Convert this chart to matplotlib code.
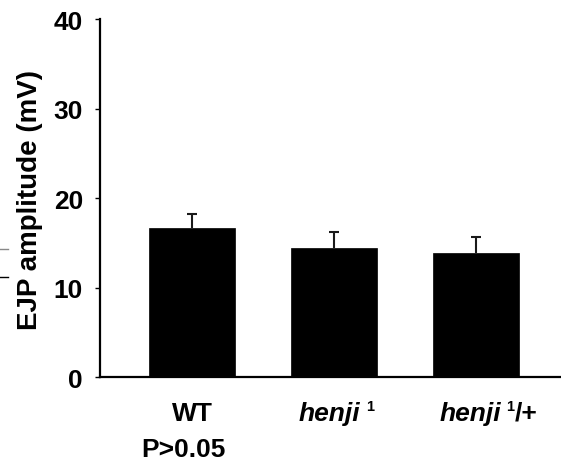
import matplotlib
matplotlib.use("Agg")
import matplotlib.pyplot as plt
from matplotlib.lines import Line2D
from matplotlib.transforms import offset_copy

plt.rcParams['font.family'] = ['Liberation Sans', 'DejaVu Sans']

# Data
genotypes = ["WT", "henji 1", "henji 1/+"]
ejp_mean = [16.7, 14.45, 13.85]
ejp_sem = [1.5, 1.75, 1.75]
y_ticks = [0, 10, 20, 30, 40]
pvalue_text = "P>0.05"

W, H = 561, 460
fig = plt.figure(figsize=(W / 100, H / 100), dpi=100)
ax = fig.add_axes([100 / W, 1 - 378 / H, 461 / W, 358 / H])

x = list(range(len(genotypes)))
ax.bar(x, ejp_mean, width=0.606, color="black", edgecolor="black", linewidth=0.5, zorder=2)

# upper-only error bars with caps
tops = [m + s for m, s in zip(ejp_mean, ejp_sem)]
cap = 0.036
ax.vlines(x, ejp_mean, tops, color="#1a1a1a", lw=1.5, zorder=3)
ax.hlines(tops, [xi - cap for xi in x], [xi + cap for xi in x], color="#1a1a1a", lw=1.5, zorder=3)

ax.set_xlim(-0.648, 2.599)
ax.set_ylim(0, 40)
ax.set_yticks(y_ticks)
ax.set_yticklabels([str(t) for t in y_ticks], fontsize=19, fontweight="bold")
ax.tick_params(axis="y", direction="out", length=3.6, width=1, pad=8.6)
ax.set_xticks([])
for s in ("top", "right"):
    ax.spines[s].set_visible(False)
for s in ("left", "bottom"):
    ax.spines[s].set_linewidth(1.6)

renderer = fig.canvas.get_renderer()
xtrans = ax.get_xaxis_transform()


def rich_label(xc, yb, pieces):
    """Draw a row of text pieces (text, kwargs, raise_px, gap_px) centred on xc."""
    arts, widths = [], []
    for txt, kw, rise, gap in pieces:
        t = ax.text(xc, yb, txt, transform=xtrans, ha="left", va="baseline", **kw)
        widths.append(t.get_window_extent(renderer).width)
        arts.append((t, rise, gap))
    total = sum(widths) + sum(g for _, _, g in arts)
    cur = -total / 2
    for (t, rise, gap), w in zip(arts, widths):
        cur += gap
        t.set_transform(offset_copy(xtrans, fig=fig, x=cur, y=rise, units="dots"))
        cur += w


base = -0.120
main = dict(fontsize=19, fontweight="bold")
ital = dict(fontsize=19, fontweight="bold", fontstyle="italic")
sup = dict(fontsize=10.5, fontweight="bold")

ax.text(0, base, genotypes[0], transform=xtrans, ha="center", va="baseline", **main)
ax.text(-0.06, base - 0.1005, pvalue_text, transform=xtrans, ha="center", va="baseline", **main)
rich_label(1.014, base, [("henji", ital, 0, 0), ("1", sup, 10, 6)])
rich_label(2.09, base, [("henji", ital, 0, 0), ("1", sup, 10, 5), ("/+", main, 0, 0)])

fig.text(30 / W, 1 - 200 / H, "EJP amplitude (mV)", rotation=90, ha="center", va="center",
         fontsize=20, fontweight="bold")

# Small marks at the left margin
fig.add_artist(Line2D([0, 8 / W], [1 - 250 / H] * 2, color="#888888", lw=1, transform=fig.transFigure))
fig.add_artist(Line2D([0, 8 / W], [1 - 277.5 / H] * 2, color="black", lw=1, transform=fig.transFigure))

fig.savefig("out.png", dpi=100)
